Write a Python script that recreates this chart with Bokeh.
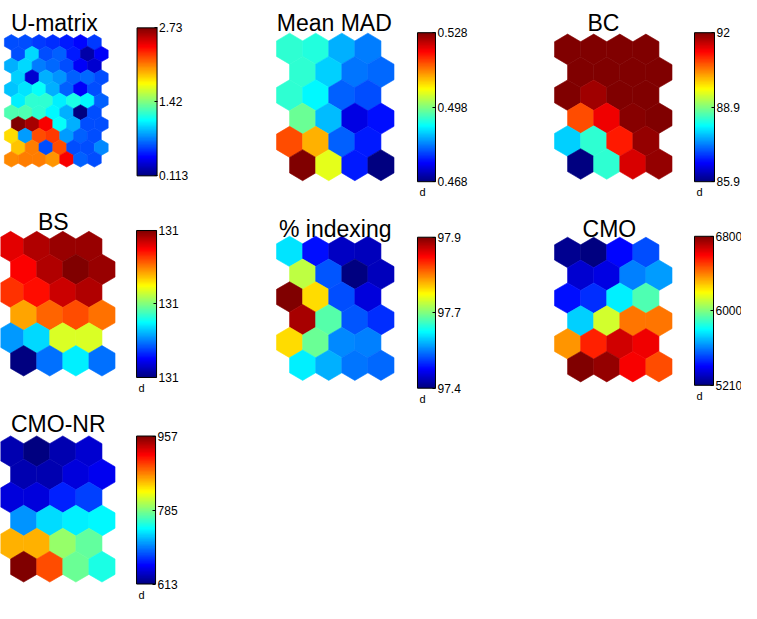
import numpy as np
from bokeh.plotting import figure
from bokeh.models import (ColumnDataSource, LinearColorMapper, ColorBar, FixedTicker,
                          CustomJSTickFormatter, Range1d, Label)
from bokeh.transform import transform
from bokeh.embed import file_html
from bokeh.resources import INLINE

# ---------------- data ----------------
umatrix_values = [
    [0.636, 0.636, 0.584, 0.558, 0.506, 0.453, 0.584],
    [0.636, 0.993, 0.636, 0.689, 0.506, 0.218, 0.427],
    [0.898, 0.993, 0.767, 0.715, 0.636, 0.427, 0.322],
    [0.977, 0.322, 0.898, 0.820, 0.689, 0.715, 0.636],
    [0.950, 1.029, 1.107, 0.898, 0.689, 0.427, 0.636],
    [1.055, 1.212, 1.212, 1.055, 1.160, 1.081, 0.689],
    [1.291, 1.291, 1.212, 1.081, 0.898, 0.113, 0.636],
    [2.730, 2.625, 2.416, 1.107, 0.898, 0.636, 0.636],
    [1.840, 0.846, 2.207, 2.259, 0.846, 0.689, 0.636],
    [1.893, 2.076, 0.636, 2.207, 0.636, 0.636, 0.793],
    [2.050, 2.076, 2.076, 2.023, 2.416, 0.689, 0.636],
]
umatrix_range = [0.113, 2.73]
umatrix_ticks = ["0.113", "1.42", "2.73"]

mad_values = [
    [0.4932, 0.4926, 0.4860, 0.4830],
    [0.4932, 0.4878, 0.4824, 0.4818],
    [0.4932, 0.4902, 0.4812, 0.4800],
    [0.4968, 0.4866, 0.4740, 0.4764],
    [0.5160, 0.5100, 0.4812, 0.4770],
    [0.5280, 0.5040, 0.4770, 0.4680],
]
mad_range = [0.468, 0.528]
mad_ticks = ["0.468", "0.498", "0.528"]

bc_values = [
    [92.00, 92.00, 92.00, 91.98],
    [92.00, 91.98, 92.00, 92.00],
    [92.00, 91.80, 91.98, 92.00],
    [90.78, 91.31, 91.94, 92.00],
    [87.91, 88.46, 91.09, 91.88],
    [85.90, 88.46, 91.47, 91.88],
]
bc_range = [85.9, 92.0]
bc_ticks = ["85.9", "88.9", "92"]

bs_values = [
    [131.32, 131.36, 131.38, 131.38],
    [131.30, 131.36, 131.40, 131.38],
    [131.26, 131.29, 131.34, 131.36],
    [131.17, 131.22, 131.24, 131.21],
    [130.82, 130.87, 131.07, 131.07],
    [130.60, 130.79, 130.89, 130.79],
]
bs_range = [130.6, 131.4]
bs_ticks = ["131", "131", "131"]

idx_values = [
    [97.575, 97.470, 97.435, 97.430],
    [97.680, 97.505, 97.400, 97.430],
    [97.900, 97.730, 97.500, 97.445],
    [97.880, 97.630, 97.505, 97.485],
    [97.730, 97.640, 97.530, 97.525],
    [97.580, 97.550, 97.520, 97.515],
]
idx_range = [97.4, 97.9]
idx_ticks = ["97.4", "97.7", "97.9"]

cmo_values = [
    [5240, 5210, 5417, 5528],
    [5337, 5369, 5608, 5655],
    [5433, 5480, 5782, 5926],
    [5735, 6132, 6418, 6418],
    [6371, 6546, 6673, 6625],
    [6800, 6768, 6609, 6482],
]
cmo_range = [5210, 6800]
cmo_ticks = ["5210", "6000", "6800"]

cmonr_values = [
    [630, 613, 630, 641],
    [630, 630, 644, 651],
    [644, 644, 668, 678],
    [706, 730, 737, 740],
    [854, 854, 792, 775],
    [957, 888, 778, 751],
]
cmonr_range = [613, 957]
cmonr_ticks = ["613", "785", "957"]

# ---------------- layout (reference pixel frame) ----------------
W_REF, H_REF = 757, 619
FIG_W, FIG_H = 741, 603
KX, KY = FIG_W / W_REF, FIG_H / H_REF


def jet(n=256):
    cols = []
    for i in range(n):
        t = i / (n - 1)
        r = min(max(1.5 - abs(4 * t - 3), 0), 1)
        g = min(max(1.5 - abs(4 * t - 2), 0), 1)
        b = min(max(1.5 - abs(4 * t - 1), 0), 1)
        cols.append("#%02x%02x%02x" % (int(round(r * 255)), int(round(g * 255)), int(round(b * 255))))
    return cols


JET = jet(256)

panels = [
    dict(title="U-matrix", vals=umatrix_values, rng=umatrix_range, ticks=umatrix_ticks,
         grid=(4, 35, 110, 171), cbar=(139.5, 28.5, 159.5, 180), tpos=(55, 23), d=False),
    dict(title="Mean MAD", vals=mad_values, rng=mad_range, ticks=mad_ticks,
         grid=(282, 33.5, 402, 185), cbar=(426, 33, 444, 186), tpos=(341, 23), d=True),
    dict(title="BC", vals=bc_values, rng=bc_range, ticks=bc_ticks,
         grid=(566, 34.5, 686, 183.5), cbar=(709, 33, 729, 186), tpos=(616, 23), d=True),
    dict(title="BS", vals=bs_values, rng=bs_range, ticks=bs_ticks,
         grid=(-3, 237, 117, 385.5), cbar=(139, 236, 159, 387), tpos=(54, 227), d=True),
    dict(title="% indexing", vals=idx_values, rng=idx_range, ticks=idx_ticks,
         grid=(282, 242, 402, 390), cbar=(426, 243, 444, 398), tpos=(342, 235), d=True),
    dict(title="CMO", vals=cmo_values, rng=cmo_range, ticks=cmo_ticks,
         grid=(566, 243, 686, 391.5), cbar=(709, 242, 728, 395), tpos=(622, 235), d=True),
    dict(title="CMO-NR", vals=cmonr_values, rng=cmonr_range, ticks=cmonr_ticks,
         grid=(-3, 447, 117, 597), cbar=(139, 447, 158, 599), tpos=(59, 435), d=True),
]

p = figure(width=FIG_W, height=FIG_H, x_range=Range1d(0, W_REF), y_range=Range1d(H_REF, 0),
           output_backend="svg", toolbar_location=None, min_border=0,
           x_axis_location=None, y_axis_location=None)
p.grid.visible = False
p.outline_line_color = None
p.background_fill_color = "white"
p.border_fill_color = "white"

FONT = "Liberation Sans"

for pn in panels:
    vals = pn["vals"]
    nrows, ncols = len(vals), len(vals[0])
    left, top, right, bottom = pn["grid"]
    w = (right - left) / (ncols + 0.5)
    h = (bottom - top) / (0.75 * (nrows - 1) + 1)
    xs, ys, vv = [], [], []
    for r in range(nrows):
        for c in range(ncols):
            cx = left + w / 2 + c * w + (w / 2 if r % 2 == 1 else 0)
            cy = top + h / 2 + r * 0.75 * h
            xs.append([cx, cx + w / 2, cx + w / 2, cx, cx - w / 2, cx - w / 2])
            ys.append([cy - h / 2, cy - h / 4, cy + h / 4, cy + h / 2, cy + h / 4, cy - h / 4])
            vv.append(vals[r][c])
    lo, hi = pn["rng"]
    mapper = LinearColorMapper(palette=JET, low=lo, high=hi)
    src = ColumnDataSource(dict(xs=xs, ys=ys, val=vv))
    p.patches("xs", "ys", source=src, fill_color=transform("val", mapper),
              line_color=transform("val", mapper), line_width=0.6)

    # colour bar
    x0, y0, x1, y1 = pn["cbar"]
    mid = (lo + hi) / 2
    cb = ColorBar(color_mapper=mapper, orientation="vertical",
                  location=(x0 * KX, (H_REF - y1) * KY),
                  width=int(round((x1 - x0) * KX)), height=int(round((y1 - y0) * KY)),
                  padding=0, margin=0,
                  ticker=FixedTicker(ticks=[lo, mid, hi]),
                  formatter=CustomJSTickFormatter(args=dict(labels=pn["ticks"]),
                                                  code="return labels[index];"),
                  label_standoff=2,
                  major_label_text_font=FONT, major_label_text_font_size="12px",
                  major_label_text_color="black",
                  major_tick_line_color="black", major_tick_in=3, major_tick_out=0,
                  minor_tick_line_color=None,
                  bar_line_color="black", bar_line_width=1,
                  border_line_color=None, background_fill_color=None)
    p.add_layout(cb)

    tx, ty = pn["tpos"]
    p.add_layout(Label(x=tx, y=ty, text=pn["title"], text_align="center",
                       text_baseline="alphabetic", text_font=FONT,
                       text_font_size="23px", text_color="black"))
    if pn["d"]:
        p.add_layout(Label(x=x0 + 2, y=y1 + 11, text="d", text_align="left",
                           text_baseline="alphabetic", text_font=FONT,
                           text_font_size="11px", text_color="black"))

open("out.html", "w").write(file_html(p, INLINE))
